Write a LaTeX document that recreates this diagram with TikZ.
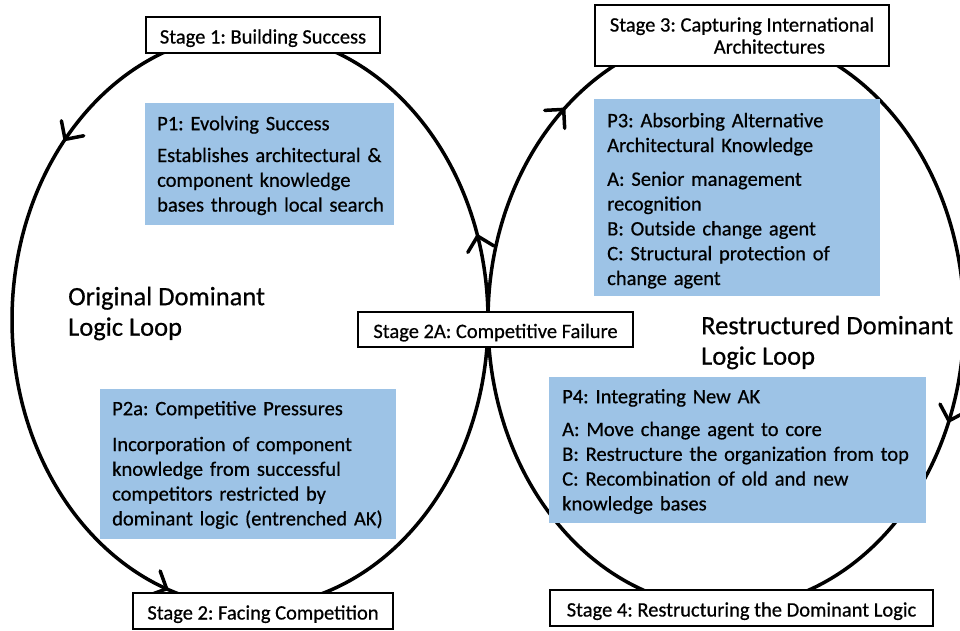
\documentclass[tikz,border=0pt]{standalone}
\usepackage{fontspec}
\setmainfont{Carlito}[FakeBold=0.6]
\frenchspacing
\definecolor{pblue}{RGB}{157,195,230}
\tikzset{
  loopline/.style={line width=3.5pt, draw=black},
  tipbarb/.style={line width=3.5pt, draw=black, line cap=round, line join=round},
  stagebase/.style={draw=black, line width=1.8pt, fill=white, inner sep=0pt, font=\fontsize{20.5}{22}\selectfont},
  stagebox/.style={stagebase, text height=17pt, text depth=0pt},
  bluebox/.style={fill=pblue, inner sep=0pt, anchor=north west},
  btext/.style={anchor=north west, inner sep=0pt, align=left, text width=#1, font=\fontsize{20.5}{24.8}\selectfont},
  bigtext/.style={anchor=north west, inner sep=0pt, align=left, font=\fontsize{26.5}{30.5}\selectfont},
}
\newcommand{\fl}{\rule{0pt}{16pt}}
\newcommand{\bl}{\rule{0pt}{21pt}}
\begin{document}
\begin{tikzpicture}[x=1pt,y=-1pt]
\useasboundingbox (0,0) rectangle (960,630);
\coordinate (L) at (250,320);
\coordinate (R) at (726,320);
% loops
\draw[loopline] (L) ellipse [x radius=238, y radius=287];
\draw[loopline] (R) ellipse [x radius=238, y radius=288];
% arrowhead tips on the loops
\coordinate (t1) at ([shift={(219:238 and 287)}]L);
\coordinate (t2) at ([shift={(110.5:238 and 287)}]L);
\coordinate (t3) at ([shift={(343:238 and 287)}]L);
\coordinate (t4) at ([shift={(227:238 and 288)}]R);
\coordinate (t5) at ([shift={(20.5:238 and 288)}]R);
\draw[tipbarb] (t1) +(259:19) -- (t1) -- +(349:19);
\draw[tipbarb] (t2) +(160:19) -- (t2) -- +(250:19);
\draw[tipbarb] (t3) +(31:19) -- (t3) -- +(121:19);
\draw[tipbarb] (t4) +(87:19) -- (t4) -- +(177:19);
\draw[tipbarb] (t5) +(242:19) -- (t5) -- +(332:19);
% stage boxes
\node[stagebox, minimum width=234, minimum height=36] (s1) at (263,35) {Stage 1: Building Success};
\node[stagebase, minimum width=294, minimum height=61, align=left] (s3) at (742,35.5) {Stage 3: Capturing International\\\hspace*{104pt}Architectures};
\node[stagebox, minimum width=275, minimum height=35] (s2a) at (495.5,329.5) {Stage 2A: Competitive Failure};
\node[stagebox, minimum width=260, minimum height=36] (s2) at (263,611) {Stage 2: Facing Competition};
\node[stagebox, minimum width=383, minimum height=36] (s4) at (741.5,608) {Stage 4: Restructuring the Dominant Logic};
% blue proposition boxes
\node[bluebox, minimum width=249, minimum height=122] (p1) at (145,103) {};
\node[btext=235pt] (p1t) at (157,114) {\fl P1: Evolving Success\\[7pt]Establishes architectural \&\\component knowledge\\bases through local search};
\node[bluebox, minimum width=286, minimum height=197] (p3) at (594,99) {};
\node[btext=270pt] (p3t) at (607,111) {\fl P3: Absorbing Alternative\\Architectural Knowledge\\[9pt]A: Senior management\\recognition\\B: Outside change agent\\C: Structural protection of\\change agent};
\node[bluebox, minimum width=296, minimum height=150] (p2a) at (100,389) {};
\node[btext=282pt] (p2at) at (112,399) {\fl P2a: Competitive Pressures\\[11pt]Incorporation of component\\knowledge from successful\\competitors restricted by\\dominant logic (entrenched AK)};
\node[bluebox, minimum width=377, minimum height=146] (p4) at (549,377) {};
\node[btext=362pt] (p4t) at (562,387) {\fl P4: Integrating New AK\\[8pt]A: Move change agent to core\\B: Restructure the organization from top\\C: Recombination of old and new\\knowledge bases};
% loop labels
\node[bigtext] (lab1) at (68,284) {\bl Original Dominant\\Logic Loop};
\node[bigtext] (lab2) at (701,313) {\bl Restructured Dominant\\Logic Loop};
\end{tikzpicture}
\end{document}
